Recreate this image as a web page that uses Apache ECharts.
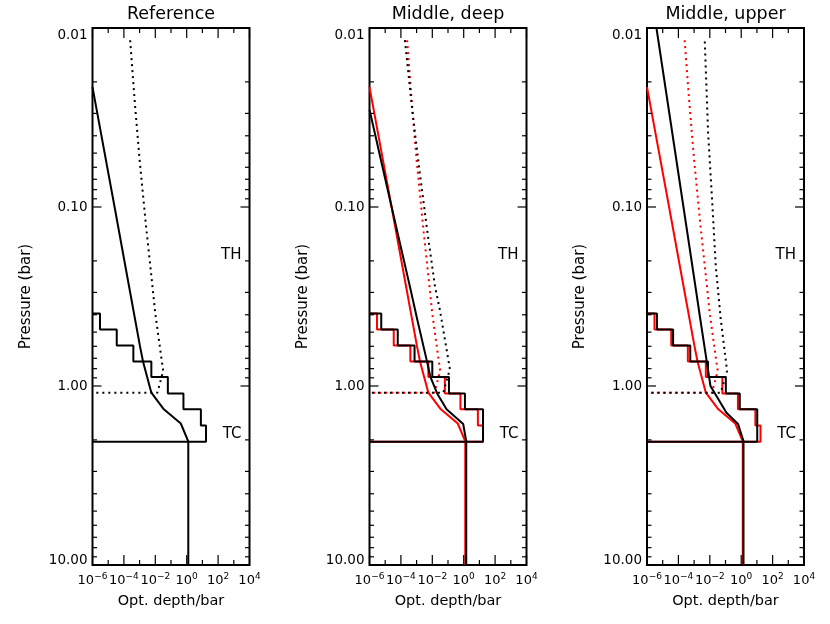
<!DOCTYPE html>
<html>
<head>
<meta charset="utf-8">
<style>
html,body{margin:0;padding:0;background:#ffffff;}
#chart{width:830px;height:624px;}
</style>
<script src="https://cdn.jsdelivr.net/npm/echarts@6/dist/echarts.min.js"></script>
</head>
<body>
<div id="chart"></div>
<script>
// ---------------- data ----------------
const panelTitles = ['Reference', 'Middle, deep', 'Middle, upper'];
const xAxisName = 'Opt. depth/bar';
const yAxisName = 'Pressure (bar)';

const xTickValues = [1e-6, 1e-4, 1e-2, 1, 1e2, 1e4];
const xTickExponents = ['\u22126', '\u22124', '\u22122', '0', '2', '4'];
const xMinorTickValues = [1e-5, 1e-3, 1e-1, 1e1, 1e3];
const yTickValues = [0.01, 0.1, 1, 10];
const yTickLabels = ['0.01', '0.10', '1.00', '10.00'];
const yMinorTickValues = [0.02, 0.03, 0.04, 0.05, 0.06, 0.07, 0.08, 0.09,
                          0.2, 0.3, 0.4, 0.5, 0.6, 0.7, 0.8, 0.9,
                          2, 3, 4, 5, 6, 7, 8, 9];

const levelNames = ['TH', 'TC'];
const levelPressures = [0.2, 2.0];

// cloud layer boundaries (bar) and optical depth per bar in each layer
const layerEdgesP = [0.394, 0.483, 0.594, 0.730, 0.891, 1.10, 1.35, 1.66, 2.05];
const refLayerTau = [3.0e-6, 3.5e-5, 4.0e-4, 5.6e-3, 0.063, 0.62, 8.0, 17];
const deepLayerTau = [5.6e-6, 6.3e-5, 7.4e-4, 0.010, 0.115, 1.2, 17, 17];
const upperLayerTau = [4.3e-6, 4.6e-5, 5.7e-4, 7.7e-3, 0.105, 0.81, 10.5, 10.5];

// solid profiles
const refHazeP = [0.0214, 0.1, 0.288, 0.597, 0.73, 1.09, 1.35, 1.62, 2.04, 10];
const refHazeTau = [1.0e-6, 2.55e-5, 2.3e-4, 1.05e-3, 1.65e-3, 5.6e-3, 0.035, 0.42, 1.26, 1.26];
const deepHazeP = [0.0286, 0.1, 0.288, 0.425, 0.724, 0.889, 1.10, 1.35, 1.63, 2.04, 10];
const deepHazeTau = [1.0e-6, 2.57e-5, 4.1e-4, 1.1e-3, 4.5e-3, 7.6e-3, 0.0204, 0.081, 0.93, 1.45, 1.45];
const upperHazeP = [0.01, 0.1, 0.288, 0.425, 0.724, 1.0, 1.135, 1.41, 1.63, 2.03, 10];
const upperHazeTau = [4.0e-6, 2.1e-4, 1.29e-3, 2.5e-3, 6.3e-3, 0.011, 0.026, 0.115, 0.63, 1.4, 1.4];

// dotted profiles
const refGasP = [0.0117, 0.0252, 0.0545, 0.129, 0.288, 0.389, 0.71, 0.824, 1.09, 1.09];
const refGasTau = [2.5e-4, 4.8e-4, 1.0e-3, 2.6e-3, 6.9e-3, 9.8e-3, 0.025, 0.032, 0.0135, 1e-6];
const deepGasP = [0.0117, 0.0326, 0.0643, 0.129, 0.278, 0.373, 0.548, 0.805, 1.09, 1.09];
const deepGasTau = [1.8e-4, 6.2e-4, 1.6e-3, 4.4e-3, 0.0148, 0.030, 0.063, 0.132, 0.05, 1e-6];
const upperGasP = [0.0119, 0.0386, 0.099, 0.214, 0.288, 0.425, 0.824, 1.09, 1.09];
const upperGasTau = [4.8e-3, 7.8e-3, 0.0148, 0.024, 0.033, 0.050, 0.126, 0.05, 1e-6];

// ---------------- layout & style ----------------
const layout = { lefts: [92.5, 369.5, 647], top: 28, width: 157, height: 537 };
const FONT = 'DejaVu Sans';
const BLACK = '#000000';
const RED = '#ff0000';

const refModel = { layers: refLayerTau, hazeP: refHazeP, hazeTau: refHazeTau, gasP: refGasP, gasTau: refGasTau };
const deepModel = { layers: deepLayerTau, hazeP: deepHazeP, hazeTau: deepHazeTau, gasP: deepGasP, gasTau: deepGasTau };
const upperModel = { layers: upperLayerTau, hazeP: upperHazeP, hazeTau: upperHazeTau, gasP: upperGasP, gasTau: upperGasTau };

const panels = [
  [{ color: BLACK, m: refModel }],
  [{ color: RED, m: refModel }, { color: BLACK, m: deepModel }],
  [{ color: RED, m: refModel }, { color: BLACK, m: upperModel }]
];

function stepPoints(edges, taus, edgeTau) {
  const pts = [[edgeTau, edges[0]]];
  for (let i = 0; i < taus.length; i++) {
    pts.push([taus[i], edges[i]]);
    pts.push([taus[i], edges[i + 1]]);
  }
  pts.push([edgeTau, edges[edges.length - 1]]);
  return pts;
}
function zip(taus, ps) { return taus.map((t, i) => [t, ps[i]]); }

const tickData = [];
xTickValues.forEach((v, k) => tickData.push([v, 1, 0, k]));
xMinorTickValues.forEach((v, k) => tickData.push([v, 1, 1, k]));
yTickValues.forEach((v, k) => tickData.push([1, v, 2, k]));
yMinorTickValues.forEach((v, k) => tickData.push([1, v, 3, k]));
levelPressures.forEach((p, k) => tickData.push([xTickValues[xTickValues.length - 1], p, 4, k]));

function renderTicks(params, api) {
  const cs = params.coordSys;
  const L = cs.x, R = cs.x + cs.width, T = cs.y, B = cs.y + cs.height;
  const kind = api.value(2), idx = api.value(3);
  const pt = api.coord([api.value(0), api.value(1)]);
  const ls = { stroke: BLACK, lineWidth: 1.2 };
  const children = [];
  if (kind === 0 || kind === 1) {
    const x = pt[0];
    const len = kind === 0 ? 10 : 5;
    children.push({ type: 'line', shape: { x1: x, y1: B, x2: x, y2: B - len }, style: ls });
    children.push({ type: 'line', shape: { x1: x, y1: T, x2: x, y2: T + len }, style: ls });
    if (kind === 0) {
      children.push({
        type: 'text', x: x, y: B + 7.5,
        style: {
          text: '{b|10}{s|' + xTickExponents[idx] + '}',
          align: 'center', verticalAlign: 'top',
          rich: {
            b: { fontSize: 13, fontFamily: FONT, fill: BLACK, verticalAlign: 'bottom' },
            s: { fontSize: 9, fontFamily: FONT, fill: BLACK, verticalAlign: 'top', padding: [0, 0, 6, 0] }
          }
        }
      });
    }
  } else if (kind === 2 || kind === 3) {
    const y = pt[1];
    const len = kind === 2 ? 9 : 4.5;
    children.push({ type: 'line', shape: { x1: L, y1: y, x2: L + len, y2: y }, style: ls });
    children.push({ type: 'line', shape: { x1: R, y1: y, x2: R - len, y2: y }, style: ls });
    if (kind === 2) {
      const ly = Math.min(Math.max(y, T + 7), B - 5);
      children.push({
        type: 'text', x: L - 5, y: ly,
        style: { text: yTickLabels[idx], align: 'right', verticalAlign: 'middle', fontSize: 13.5, fontFamily: FONT, fill: BLACK }
      });
    }
  } else {
    children.push({
      type: 'text', x: pt[0] - 8, y: pt[1] - 5.5,
      style: { text: levelNames[idx], align: 'right', verticalAlign: 'middle', fontSize: 15, fontFamily: FONT, fill: BLACK }
    });
  }
  return { type: 'group', children: children };
}

const grids = [], xAxes = [], yAxes = [], series = [], titles = [];
panels.forEach((models, i) => {
  const left = layout.lefts[i];
  grids.push({
    left: left, top: layout.top, width: layout.width, height: layout.height,
    show: true, borderColor: BLACK, borderWidth: 2, backgroundColor: 'transparent',
    containLabel: false, outerBoundsMode: 'none'
  });
  xAxes.push({
    type: 'log', logBase: 10, gridIndex: i, min: xTickValues[0], max: xTickValues[xTickValues.length - 1],
    axisLine: { show: false }, axisTick: { show: false }, axisLabel: { show: false }, splitLine: { show: false },
    name: xAxisName, nameLocation: 'middle', nameGap: 29,
    nameTextStyle: { fontSize: 14.5, fontFamily: FONT, color: BLACK }
  });
  yAxes.push({
    type: 'log', logBase: 10, gridIndex: i, inverse: true, min: yTickValues[0], max: yTickValues[yTickValues.length - 1],
    axisLine: { show: false }, axisTick: { show: false }, axisLabel: { show: false }, splitLine: { show: false },
    name: yAxisName, nameLocation: 'middle', nameGap: 59, nameRotate: 90,
    nameTextStyle: { fontSize: 15, fontFamily: FONT, color: BLACK }
  });
  titles.push({
    text: panelTitles[i], left: left + layout.width / 2, top: 5, textAlign: 'center', padding: 0,
    textStyle: { fontSize: 17.5, fontWeight: 'normal', fontFamily: FONT, color: BLACK }
  });
  models.forEach((md) => {
    const base = { type: 'line', xAxisIndex: i, yAxisIndex: i, symbol: 'none', showSymbol: false, silent: true, clip: true, animation: false, z: 2 };
    series.push(Object.assign({}, base, {
      data: stepPoints(layerEdgesP, md.m.layers, xTickValues[0]),
      lineStyle: { color: md.color, width: 2 }
    }));
    series.push(Object.assign({}, base, {
      data: zip(md.m.hazeTau, md.m.hazeP),
      lineStyle: { color: md.color, width: 2 }
    }));
    series.push(Object.assign({}, base, {
      data: zip(md.m.gasTau, md.m.gasP),
      lineStyle: { color: md.color, width: 2, type: [2, 4] }
    }));
  });
  series.push({
    type: 'custom', xAxisIndex: i, yAxisIndex: i, silent: true, animation: false, z: 5,
    encode: { x: 0, y: 1 },
    renderItem: renderTicks,
    data: tickData
  });
});

const chart = echarts.init(document.getElementById('chart'), null, { renderer: 'canvas', width: 830, height: 624 });
chart.setOption({
  backgroundColor: '#ffffff',
  animation: false,
  title: titles,
  grid: grids,
  xAxis: xAxes,
  yAxis: yAxes,
  series: series
});
</script>
</body>
</html>
